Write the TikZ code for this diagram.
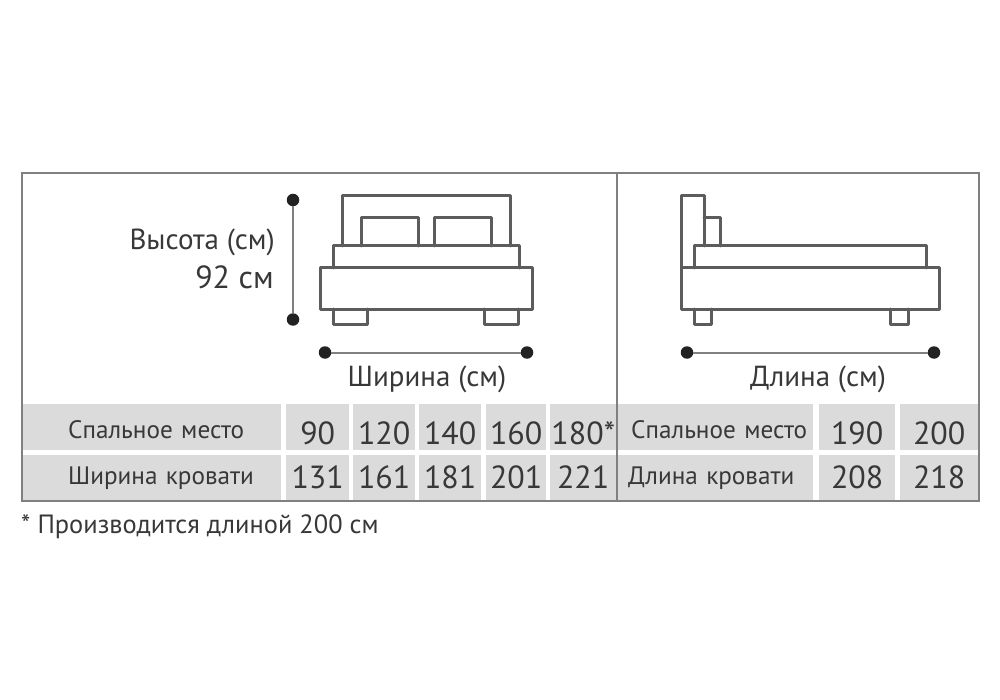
\documentclass[tikz,border=0pt]{standalone}
\usepackage{fontspec}
\setmainfont{PT Sans}
\definecolor{cellgray}{HTML}{DBDBDB}
\definecolor{framegray}{HTML}{808080}
\definecolor{bedgray}{HTML}{5C5C5C}
\definecolor{inkgray}{HTML}{383838}
\definecolor{dotblack}{HTML}{222222}
\tikzset{
  cell/.style={fill=cellgray, draw=none, inner sep=0pt, anchor=north west, text=inkgray,
    font=\fontsize{32}{32}\selectfont, text depth=0pt},
  upper/.style={cell, minimum height=46pt, text height=34pt},
  lower/.style={cell, minimum height=45pt, text height=21pt},
  labelup/.style={upper, font=\fontsize{25.2}{26}\selectfont, text height=22pt, align=left},
  labellow/.style={lower, font=\fontsize{25.2}{26}\selectfont, text height=13pt, align=left},
  dimtxt/.style={font=\fontsize{29}{29}\selectfont, text=inkgray, inner sep=0pt},
  bedline/.style={draw=bedgray, line width=3pt, line join=round, line cap=round},
  dimdot/.style={circle, fill=dotblack, inner sep=0pt, minimum size=12.5pt},
  dimline/.style={draw=framegray, line width=2pt},
  framing/.style={draw=framegray, line width=2.6pt}
}
\begin{document}
\begin{tikzpicture}[x=1pt,y=-1pt]
\useasboundingbox (0,0) rectangle (1000,700);
% table cells
\node[labelup, text width=258pt] (lab1) at (23,404){\hspace*{45pt}Спальное место};
\node[upper, minimum width=63pt] (w90) at (286,404){90};
\node[upper, minimum width=62pt] (w120) at (353,404){120};
\node[upper, minimum width=62pt] (w140) at (419,404){140};
\node[upper, minimum width=60pt] (w160) at (486,404){160};
\node[upper, minimum width=66pt] (w180) at (550,404){180*};
\node[labellow, text width=258pt] (lab2) at (23,455){\hspace*{45pt}Ширина кровати};
\node[lower, minimum width=63pt] (b131) at (286,455){131};
\node[lower, minimum width=62pt] (b161) at (353,455){161};
\node[lower, minimum width=62pt] (b181) at (419,455){181};
\node[lower, minimum width=60pt] (b201) at (486,455){201};
\node[lower, minimum width=66pt] (b221) at (550,455){221};
\node[labelup, text width=195pt] (lab3) at (618,404){\hspace*{13pt}Спальное место};
\node[upper, minimum width=76pt] (l190) at (819,404){190};
\node[upper, minimum width=78pt] (l200) at (900,404){200};
\node[labellow, text width=195pt] (lab4) at (618,455){\hspace*{10pt}Длина кровати};
\node[lower, minimum width=76pt] (l208) at (819,455){208};
\node[lower, minimum width=78pt] (l218) at (900,455){218};
% frame
\draw[framing] (22,173) rectangle (979,501);
\draw[framing] (617,173) -- (617,501);
% bed front
\draw[bedline] (342,246) -- (342,196) -- (510,196) -- (510,246);
\draw[bedline] (361,246) -- (361,218) -- (418,218) -- (418,246);
\draw[bedline] (434,246) -- (434,218) -- (491,218) -- (491,246);
\draw[bedline] (333,268) -- (333,246) -- (519,246) -- (519,268);
\draw[bedline] (320,268) rectangle (532,309);
\draw[bedline] (333,309) -- (333,324) -- (367,324) -- (367,309);
\draw[bedline] (484,309) -- (484,324) -- (518,324) -- (518,309);
% bed side
\draw[bedline] (681,268) -- (681,196) -- (704,196) -- (704,246);
\draw[bedline] (704,218) -- (720,218) -- (720,246);
\draw[bedline] (694,268) -- (694,246) -- (926,246) -- (926,268);
\draw[bedline] (681,268) rectangle (939,309);
\draw[bedline] (694,309) -- (694,324) -- (711,324) -- (711,309);
\draw[bedline] (890,309) -- (890,324) -- (908,324) -- (908,309);
% dimensions
\node[dimdot] (htop) at (293,200){};
\node[dimdot] (hbot) at (293,319.5){};
\draw[dimline] (htop) -- (hbot);
\node[dimdot] (wleft) at (325,352.5){};
\node[dimdot] (wright) at (527,352.5){};
\draw[dimline] (wleft) -- (wright);
\node[dimdot] (lleft) at (687,352.5){};
\node[dimdot] (lright) at (934,352.5){};
\draw[dimline] (lleft) -- (lright);
% labels
\node[dimtxt, anchor=base east] (height) at (275,250){Высота (см)};
\node[dimtxt, anchor=base east, font=\fontsize{32}{33}\selectfont] (heightval) at (274,289){92 см};
\node[dimtxt, anchor=base] (width) at (427,386){Ширина (см)};
\node[dimtxt, anchor=base] (length) at (818,386){Длина (см)};
\node[dimtxt, anchor=base west, font=\fontsize{26.4}{27}\selectfont] (note) at (21,533){* Производится длиной 200 см};
\end{tikzpicture}
\end{document}
